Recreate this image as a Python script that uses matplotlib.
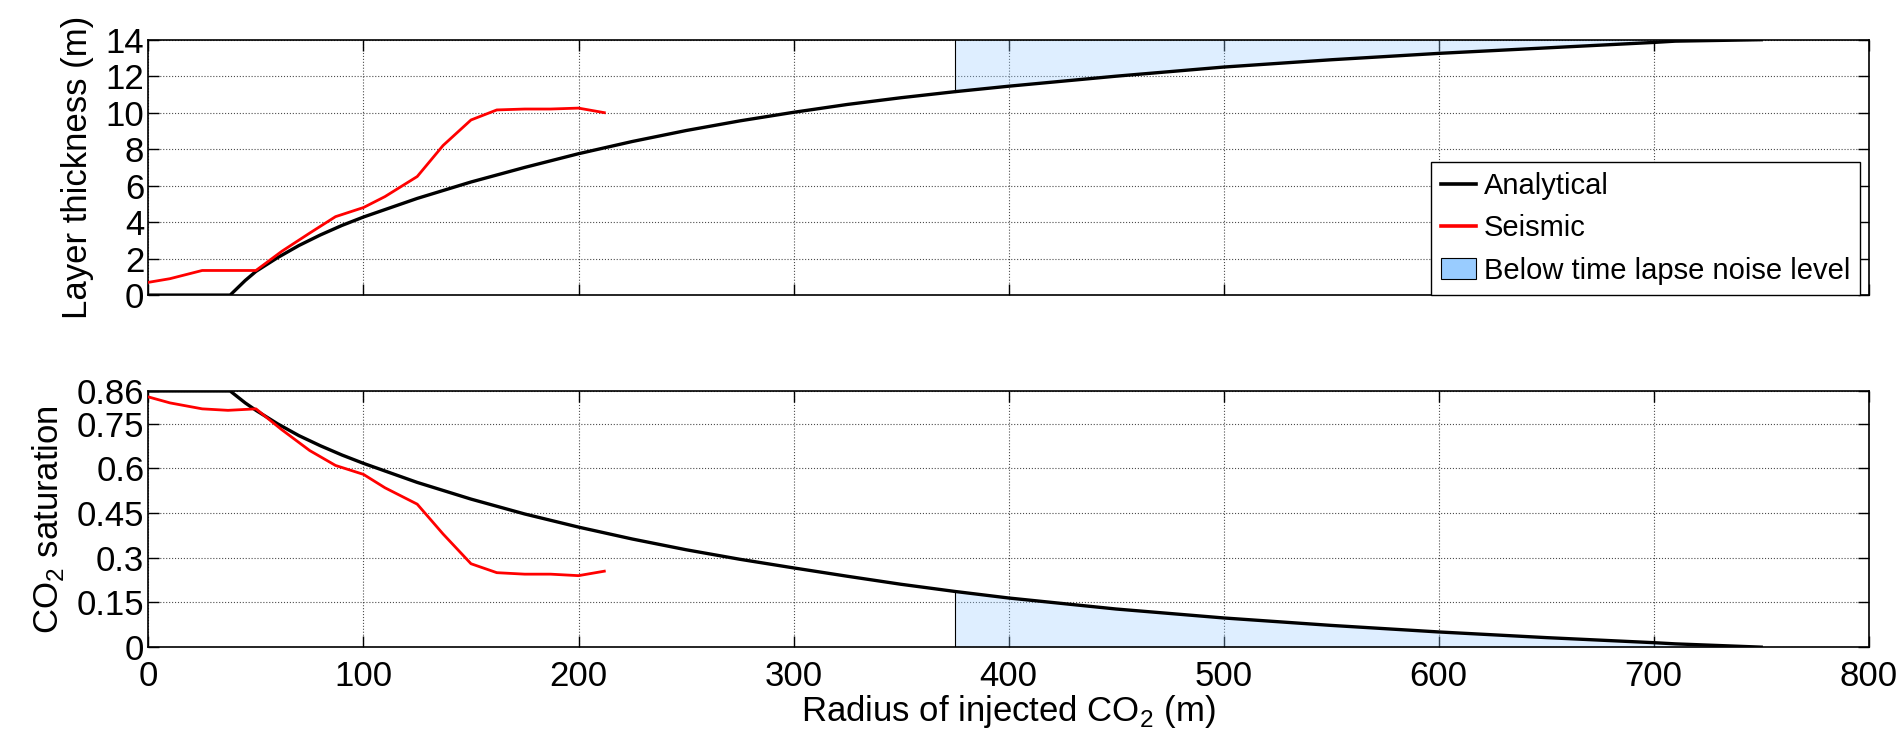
import matplotlib.pyplot as plt
from matplotlib.patches import Patch
from matplotlib.lines import Line2D
import numpy as np

# analytical solution
radius_an = [0, 38, 45, 50, 60, 70, 80, 90, 100, 125, 150, 175, 200, 225, 250,
             275, 300, 325, 350, 375, 400, 450, 500, 550, 600, 650, 700, 710, 750]
thick_an = [0, 0, 0.8, 1.3, 2.05, 2.72, 3.3, 3.82, 4.28, 5.3, 6.2, 7.0, 7.75,
            8.42, 9.02, 9.55, 10.02, 10.45, 10.82, 11.15, 11.45, 12.0, 12.5, 12.9,
            13.25, 13.55, 13.85, 13.92, 14.0]
sat_an = [0.86, 0.86, 0.82, 0.795, 0.75, 0.71, 0.676, 0.645, 0.617, 0.553, 0.497,
          0.447, 0.403, 0.363, 0.327, 0.295, 0.266, 0.238, 0.211, 0.187, 0.165, 0.128,
          0.098, 0.073, 0.051, 0.032, 0.015, 0.011, 0.0]

# seismic estimates
radius_se = [0, 10, 25, 37, 50, 62, 75, 87, 100, 110, 125, 137, 150, 162, 175,
             187, 200, 212]
thick_se = [0.7, 0.9, 1.35, 1.35, 1.35, 2.4, 3.4, 4.3, 4.8, 5.4, 6.5, 8.2, 9.6,
            10.15, 10.2, 10.2, 10.25, 10.0]
sat_se = [0.84, 0.82, 0.80, 0.795, 0.80, 0.73, 0.66, 0.61, 0.58, 0.535, 0.48, 0.38,
          0.28, 0.25, 0.245, 0.245, 0.24, 0.255]

noise_start = 375
thick_max = 14
sat_max = 0.86

plt.rcParams['font.family'] = ['Liberation Sans', 'DejaVu Sans']
plt.rcParams['font.size'] = 25
plt.rcParams['mathtext.fontset'] = 'custom'
plt.rcParams['mathtext.rm'] = 'Liberation Sans'

fig = plt.figure(figsize=(19.03, 7.49), dpi=100)
ax1 = fig.add_axes([0.078, 0.606, 0.904, 0.341])
ax2 = fig.add_axes([0.078, 0.136, 0.904, 0.342])

fill_col = '#99ccff'

r = np.array(radius_an)
h = np.array(thick_an)
s = np.array(sat_an)
mask = r >= noise_start
rx = r[mask]
hx = h[mask]
sx = s[mask]

ax1.fill_between(rx, hx, thick_max, color=fill_col, alpha=0.32, lw=0, zorder=1)
ax1.plot([noise_start, noise_start], [hx[0], thick_max], color='k', lw=0.8, zorder=2)
ax2.fill_between(rx, 0, sx, color=fill_col, alpha=0.32, lw=0, zorder=1)
ax2.plot([noise_start, noise_start], [0, sx[0]], color='k', lw=0.8, zorder=2)

ax1.plot(radius_an, thick_an, color='k', lw=2.4, zorder=3)
ax1.plot(radius_se, thick_se, color='red', lw=2.0, zorder=3)
ax2.plot(radius_an, sat_an, color='k', lw=2.4, zorder=3)
ax2.plot(radius_se, sat_se, color='red', lw=2.0, zorder=3)

for ax in (ax1, ax2):
    ax.set_xlim(0, 800)
    ax.set_xticks(range(0, 801, 100))
    ax.grid(True, linestyle=':', color='k', lw=0.8, alpha=0.7)
    ax.set_axisbelow(True)
    ax.tick_params(direction='in', top=True, right=True, length=8, width=1, pad=3)
    for sp in ax.spines.values():
        sp.set_linewidth(1.2)

ax1.set_ylim(0, thick_max)
ax1.set_yticks(range(0, 15, 2))
ax1.set_xticklabels([])
ax1.set_ylabel('Layer thickness (m)', labelpad=8)

ax2.set_ylim(0, sat_max)
ax2.set_yticks([0, 0.15, 0.3, 0.45, 0.6, 0.75, 0.86])
ax2.set_yticklabels(['0', '0.15', '0.3', '0.45', '0.6', '0.75', '0.86'])
ax2.tick_params(axis='x', pad=9)
ax2.set_ylabel('CO$_2$ saturation', labelpad=8)
ax2.set_xlabel('Radius of injected CO$_2$ (m)', labelpad=0)

handles = [Line2D([], [], color='k', lw=2.6),
           Line2D([], [], color='red', lw=2.6),
           Patch(facecolor=fill_col, edgecolor='k', lw=0.8)]
leg = ax1.legend(handles, ['Analytical', 'Seismic', 'Below time lapse noise level'],
                 loc='lower right', bbox_to_anchor=(0.995, 0.0), fancybox=False,
                 framealpha=1, edgecolor='k', handlelength=1.2, handletextpad=0.25,
                 borderpad=0.35, labelspacing=0.5, borderaxespad=0.0, fontsize=21)
leg.get_frame().set_linewidth(1.0)

fig.savefig('out.png', dpi=100)
